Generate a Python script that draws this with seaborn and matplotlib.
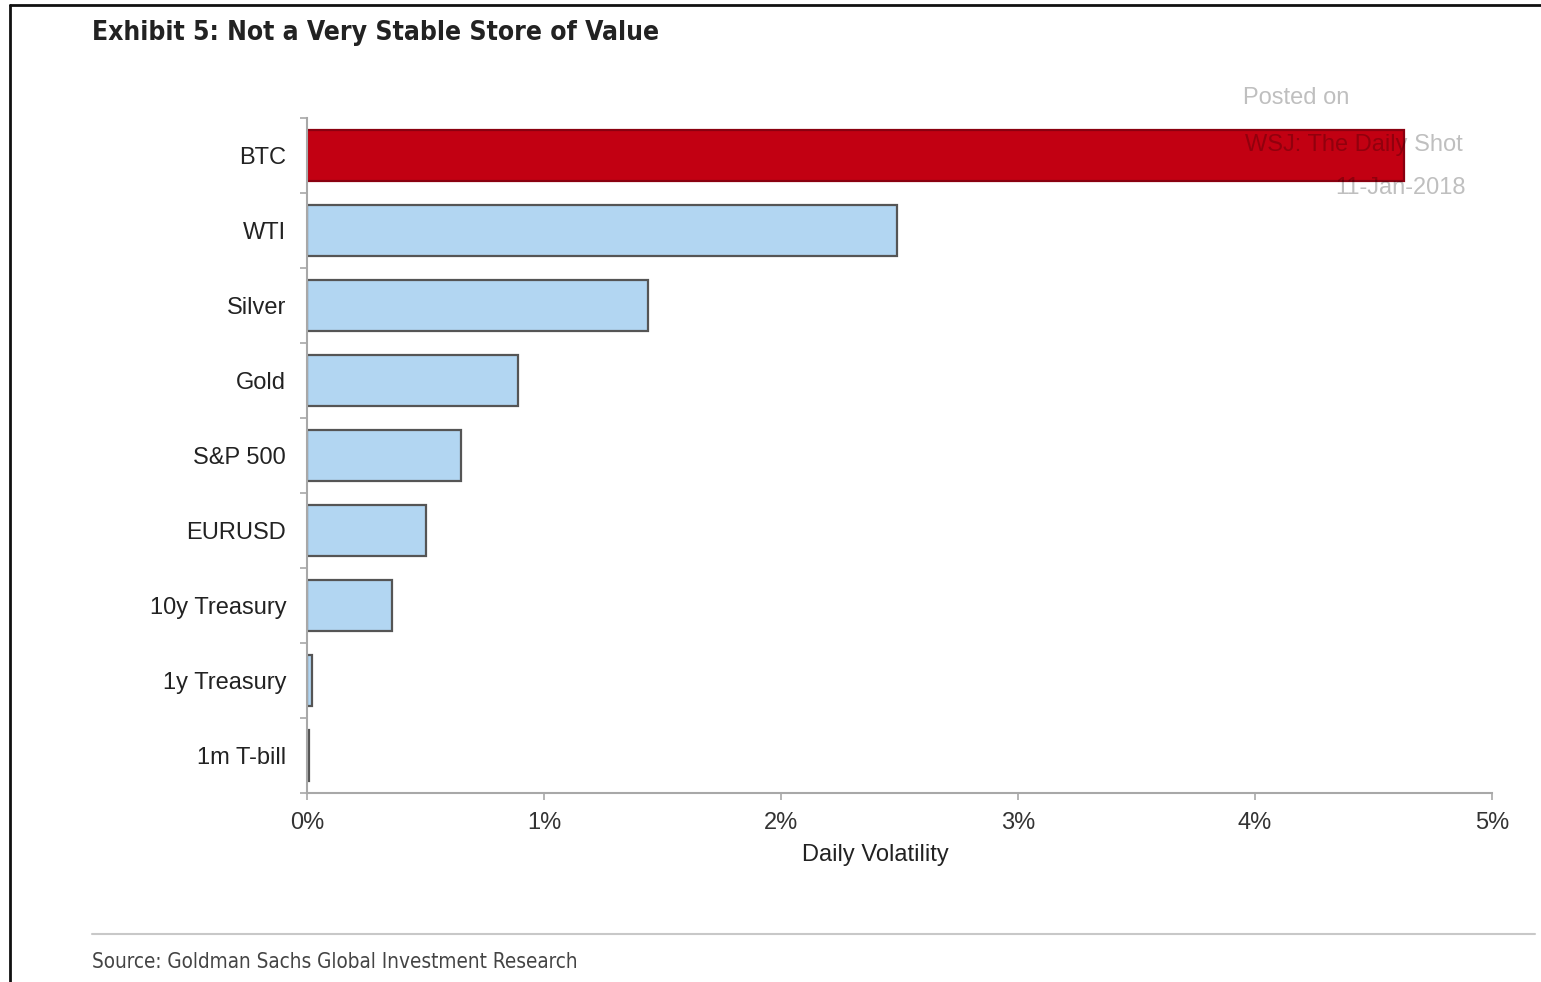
import matplotlib
matplotlib.use("Agg")
import matplotlib.pyplot as plt
import seaborn as sns
import pandas as pd
from matplotlib.lines import Line2D
from matplotlib import font_manager
from matplotlib.font_manager import FontProperties

categories = ["BTC", "WTI", "Silver", "Gold", "S&P 500", "EURUSD", "10y Treasury", "1y Treasury", "1m T-bill"]
volatility = [4.63, 2.49, 1.44, 0.89, 0.65, 0.50, 0.36, 0.02, 0.008]
xticks = [0, 1, 2, 3, 4, 5]
xtick_labels = ["0%", "1%", "2%", "3%", "4%", "5%"]

sns.set_theme(style="white")
plt.rcParams["font.family"] = ["Liberation Sans", "DejaVu Sans"]

files = sorted({f.fname for f in font_manager.fontManager.ttflist})
cond = [f for f in files if ("Condensed" in f or "Narrow" in f)]
def pick(bold):
    for f in cond:
        b = "Bold" in f
        if b == bold and "Oblique" not in f and "Italic" not in f:
            return FontProperties(fname=f)
    return None

fp_title = pick(True)
fp_src = pick(False)

df = pd.DataFrame({"cat": categories, "vol": volatility})
palette = {c: ("#C20012" if c == "BTC" else "#B2D6F2") for c in categories}

fig = plt.figure(figsize=(15.41, 9.82), dpi=100)
ax = fig.add_axes([307 / 1541, 1 - 793 / 982, (1492 - 307) / 1541, (793 - 118) / 982])
sns.barplot(data=df, x="vol", y="cat", hue="cat", palette=palette, order=categories, saturation=1,
            width=0.67, edgecolor="#555555", linewidth=1.6, dodge=False, legend=False, ax=ax)
for p in ax.patches:
    if abs(p.get_width() - volatility[0]) < 1e-9:
        p.set_edgecolor("#8A0010")

ax.set_xlim(0, 5)
ax.set_ylim(8.5, -0.5)
ax.set_xticks(xticks)
ax.set_xticklabels(xtick_labels, fontsize=17, color="#333333")
ax.set_yticks(range(len(categories)))
ax.set_yticklabels(categories, fontsize=17, color="#222222")
ax.set_ylabel("")
ax.set_xlabel("Daily Volatility", fontsize=17, color="#222222")
ax.xaxis.set_label_coords((875 - 307) / 1185, -0.075)
for s in ["top", "right"]:
    ax.spines[s].set_visible(False)
for s in ["left", "bottom"]:
    ax.spines[s].set_color("#A8A8A8")
    ax.spines[s].set_linewidth(1.5)
ax.tick_params(axis="x", which="both", length=5, width=1.2, color="#A8A8A8", pad=9, bottom=True)
ax.tick_params(axis="y", length=0, pad=15)
ax.set_yticks([i + 0.5 for i in range(-1, len(categories))], minor=True)
ax.tick_params(axis="y", which="minor", length=5, width=1.2, color="#A8A8A8", left=True)
ax.grid(False)

# watermark
wm = dict(color="black", alpha=0.25, fontsize=17, transform=fig.transFigure)
fig.text(1243 / 1541, 1 - 98 / 982, "Posted on", ha="left", va="center", **wm)
fig.text(1245 / 1541, 1 - 145 / 982, "WSJ: The Daily Shot", ha="left", va="center", **wm)
fig.text(1466 / 1541, 1 - 188 / 982, "11-Jan-2018", ha="right", va="center", **wm)

# title and source
tkw = dict(fontproperties=fp_title) if fp_title else dict(fontweight="bold", family=["DejaVu Sans"])
ttl = fig.text(92 / 1541, 1 - 33 / 982, "Exhibit 5: Not a Very Stable Store of Value", ha="left", va="center",
               color="#222222", **tkw)
ttl.set_fontsize(19)
skw = dict(fontproperties=fp_src) if fp_src else dict(family=["DejaVu Sans"])
src = fig.text(92 / 1541, 1 - 962 / 982, "Source: Goldman Sachs Global Investment Research", ha="left", va="center",
               color="#444444", **skw)
src.set_fontsize(14.9)
fig.add_artist(Line2D([92 / 1541, 1535 / 1541], [1 - 934 / 982] * 2, color="#C8C8C8", lw=1.5,
                      transform=fig.transFigure))
# frame border
fig.add_artist(Line2D([10 / 1541, 10 / 1541], [0, 1 - 5 / 982], color="#111111", lw=2, transform=fig.transFigure))
fig.add_artist(Line2D([10 / 1541, 1], [1 - 5 / 982] * 2, color="#111111", lw=2, transform=fig.transFigure))

fig.savefig("out.png", dpi=100)
